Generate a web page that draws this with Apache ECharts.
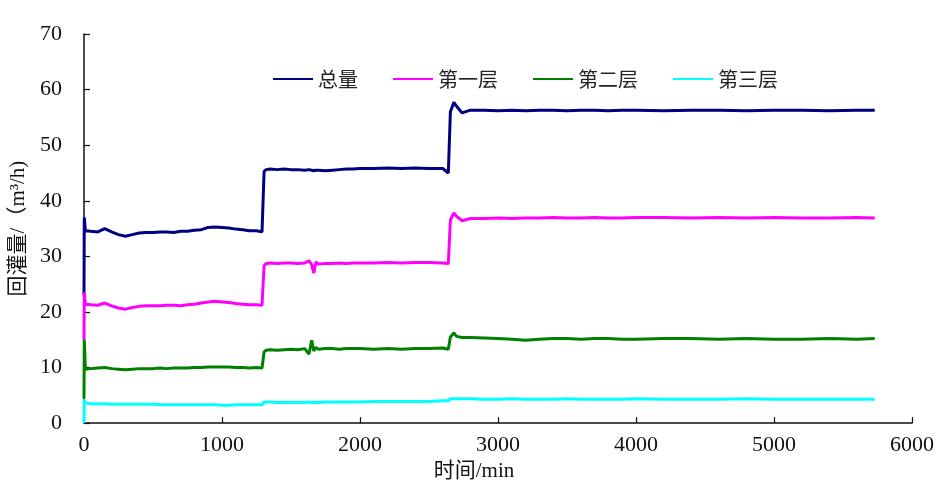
<!DOCTYPE html>
<html>
<head>
<meta charset="utf-8">
<script src="https://cdn.jsdelivr.net/npm/echarts@6/dist/echarts.min.js"></script>
<style>html,body{margin:0;padding:0;background:#fff;}#c{width:947px;height:487px;}</style>
</head>
<body>
<div id="c"></div>
<script>
const seriesNames = ['总量', '第一层', '第二层', '第三层'];
const xTicks = [0, 1000, 2000, 3000, 4000, 5000, 6000];
const yTicks = [0, 10, 20, 30, 40, 50, 60, 70];

const time = [
  0, 2, 10, 50, 100, 150, 200, 250, 300, 350,
  400, 450, 500, 550, 600, 650, 700, 750, 800, 850,
  900, 950, 1000, 1050, 1100, 1150, 1200, 1250, 1290, 1305,
  1320, 1350, 1400, 1450, 1500, 1550, 1600, 1630, 1650, 1665,
  1680, 1700, 1750, 1800, 1850, 1900, 1950, 2000, 2100, 2200,
  2300, 2400, 2500, 2600, 2640, 2655, 2680, 2700, 2740, 2800,
  2900, 3000, 3100, 3200, 3300, 3400, 3500, 3600, 3700, 3800,
  3900, 4000, 4200, 4400, 4600, 4800, 5000, 5200, 5400, 5600,
  5730
];

const total = [
  23, 37, 34.6, 34.5, 34.4, 35.0, 34.4, 33.9, 33.6, 33.9,
  34.2, 34.3, 34.3, 34.4, 34.4, 34.3, 34.5, 34.5, 34.7, 34.8,
  35.2, 35.3, 35.2, 35.1, 34.9, 34.8, 34.6, 34.6, 34.4, 45.3,
  45.6, 45.7, 45.6, 45.7, 45.6, 45.6, 45.5, 45.6, 45.5, 45.4,
  45.5, 45.5, 45.4, 45.5, 45.6, 45.7, 45.7, 45.8, 45.8, 45.9,
  45.8, 45.9, 45.8, 45.8, 45.0, 56.0, 57.7, 57.0, 55.8, 56.3,
  56.3, 56.2, 56.3, 56.2, 56.3, 56.3, 56.2, 56.3, 56.3, 56.2,
  56.3, 56.3, 56.2, 56.3, 56.3, 56.2, 56.3, 56.3, 56.2, 56.3,
  56.3
];

const layer1 = [
  15, 23.5, 21.4, 21.3, 21.2, 21.6, 21.1, 20.7, 20.5, 20.8,
  21.0, 21.1, 21.1, 21.1, 21.2, 21.2, 21.1, 21.3, 21.4, 21.6,
  21.8, 21.9, 21.8, 21.7, 21.5, 21.4, 21.3, 21.3, 21.2, 28.3,
  28.7, 28.8, 28.7, 28.8, 28.8, 28.7, 28.8, 29.2, 28.5, 27.0,
  29.0, 28.6, 28.7, 28.7, 28.8, 28.7, 28.8, 28.8, 28.8, 28.9,
  28.8, 28.9, 28.9, 28.8, 28.7, 36.5, 37.8, 37.2, 36.4, 36.8,
  36.8, 36.9, 36.8, 36.9, 36.9, 37.0, 36.9, 36.9, 37.0, 36.9,
  36.9, 37.0, 37.0, 36.9, 37.0, 36.9, 37.0, 36.9, 36.9, 37.0,
  36.9
];

const layer2 = [
  4.5, 15.0, 9.7, 9.8, 9.9, 10.0, 9.8, 9.7, 9.6, 9.7,
  9.8, 9.8, 9.8, 9.9, 9.8, 9.9, 9.9, 9.9, 10.0, 10.0,
  10.1, 10.1, 10.1, 10.1, 10.0, 10.0, 9.9, 10.0, 9.9, 12.8,
  13.1, 13.2, 13.1, 13.2, 13.3, 13.2, 13.4, 12.4, 14.9, 13.0,
  13.6, 13.3, 13.4, 13.4, 13.3, 13.4, 13.4, 13.4, 13.3, 13.4,
  13.3, 13.4, 13.4, 13.5, 13.3, 15.5, 16.2, 15.6, 15.4, 15.4,
  15.3, 15.2, 15.1, 14.9, 15.1, 15.2, 15.2, 15.1, 15.2, 15.2,
  15.1, 15.1, 15.2, 15.2, 15.1, 15.2, 15.1, 15.1, 15.2, 15.1,
  15.2
];

const layer3 = [
  0, 4.3, 3.6, 3.5, 3.5, 3.5, 3.4, 3.4, 3.4, 3.4,
  3.4, 3.4, 3.4, 3.3, 3.3, 3.3, 3.3, 3.3, 3.3, 3.3,
  3.3, 3.3, 3.2, 3.2, 3.3, 3.3, 3.3, 3.3, 3.3, 3.8,
  3.8, 3.8, 3.7, 3.7, 3.7, 3.7, 3.7, 3.8, 3.7, 3.7,
  3.7, 3.7, 3.8, 3.8, 3.8, 3.8, 3.8, 3.8, 3.9, 3.9,
  3.9, 3.9, 3.9, 4.0, 4.0, 4.4, 4.4, 4.4, 4.4, 4.4,
  4.3, 4.3, 4.4, 4.3, 4.3, 4.3, 4.4, 4.3, 4.3, 4.3,
  4.3, 4.4, 4.3, 4.3, 4.3, 4.4, 4.3, 4.3, 4.3, 4.3,
  4.3
];

const colors = ['#000080', '#FF00FF', '#008000', '#00FFFF'];
const values = [total, layer1, layer2, layer3];

const numFont = 'Liberation Serif, DejaVu Serif, serif';
const cjkFont = 'Liberation Serif, Noto Sans CJK SC, serif';

const chart = echarts.init(document.getElementById('c'), null, {renderer: 'canvas'});
chart.setOption({
  animation: false,
  backgroundColor: '#fff',
  color: colors,
  grid: {left: 84, right: 35, top: 34, bottom: 58, containLabel: false},
  legend: {
    data: seriesNames,
    left: 268,
    top: 64,
    icon: 'rect',
    itemWidth: 40,
    itemHeight: 2,
    itemGap: 35,
    textStyle: {fontFamily: 'Noto Sans CJK SC', fontSize: 20, color: '#222'}
  },
  xAxis: {
    type: 'value',
    min: xTicks[0],
    max: xTicks[xTicks.length - 1],
    interval: 1000,
    name: '时间/min',
    nameLocation: 'middle',
    nameGap: 29,
    nameTextStyle: {fontFamily: cjkFont, fontSize: 21, color: '#111', padding: [0, 48, 0, 0]},
    axisLine: {lineStyle: {color: '#111', width: 1.5}},
    axisTick: {inside: true, length: 6, lineStyle: {color: '#111', width: 1.2}},
    axisLabel: {fontFamily: numFont, fontSize: 22, color: '#111', margin: 11,
      formatter: v => String(v)},
    splitLine: {show: false}
  },
  yAxis: {
    type: 'value',
    min: yTicks[0],
    max: yTicks[yTicks.length - 1],
    interval: 10,
    name: '回灌量/（m³/h)',
    nameLocation: 'middle',
    nameRotate: 90,
    nameGap: 52,
    nameTextStyle: {fontFamily: cjkFont, fontSize: 21, color: '#111'},
    axisLine: {show: true, lineStyle: {color: '#111', width: 1.5}},
    axisTick: {show: true, inside: true, length: 6, lineStyle: {color: '#111', width: 1.2}},
    axisLabel: {fontFamily: numFont, fontSize: 22, color: '#111', margin: 22,
      formatter: v => String(v)},
    splitLine: {show: false}
  },
  series: seriesNames.map((n, i) => ({
    name: n,
    type: 'line',
    showSymbol: false,
    symbol: 'none',
    lineStyle: {width: 3, color: colors[i]},
    data: time.map((t, k) => [t, values[i][k]])
  }))
});
</script>
</body>
</html>
